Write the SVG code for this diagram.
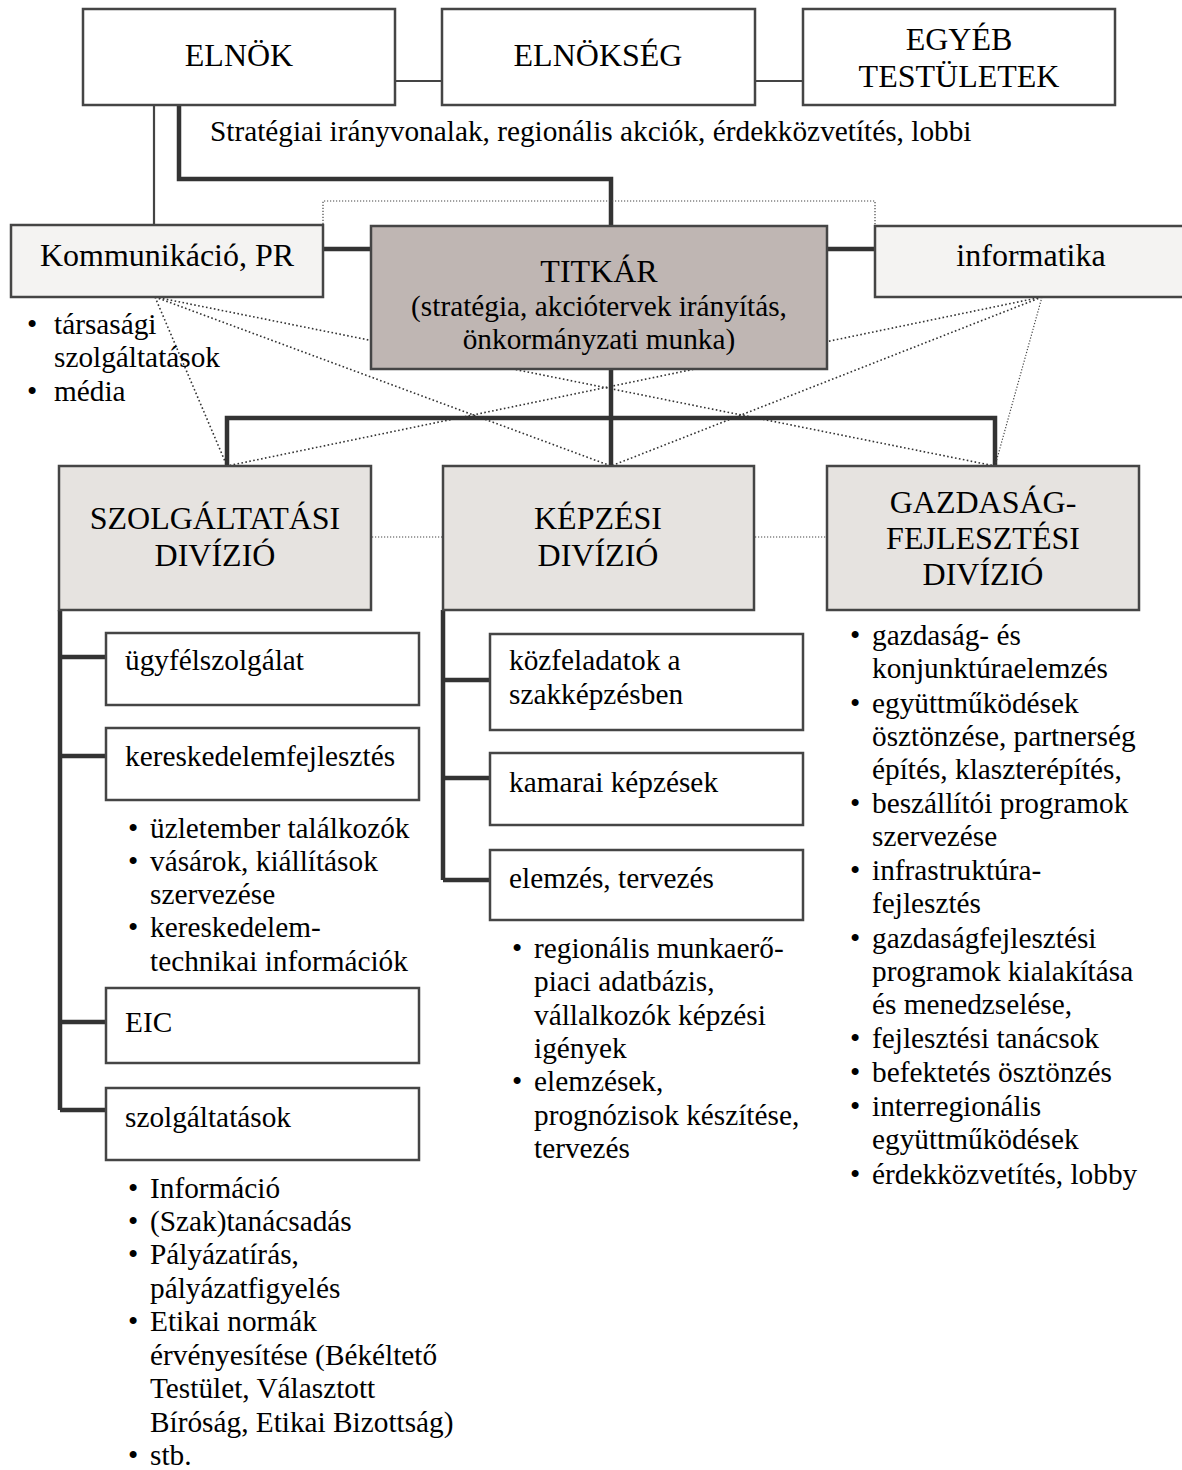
<svg xmlns="http://www.w3.org/2000/svg" width="1182" height="1470" viewBox="0 0 1182 1470">
<style>
text{font-family:"Liberation Serif","Times New Roman",serif;fill:#000}
.t{font-size:32px;text-anchor:middle}
.b{font-size:29.3px}
.box{stroke:#454545;stroke-width:2.5}
.w{fill:#fff}
.l{fill:#f4f3f2}
.d{fill:#e6e3e0}
.s{fill:#bfb6b3}
.thick{stroke:#333;stroke-width:4.5;fill:none}
.thin{stroke:#444;stroke-width:2.2;fill:none}
.dot{stroke:#333;stroke-width:1.6;stroke-dasharray:1.6 2.4;fill:none}
.dot2{stroke:#444;stroke-width:1.2;stroke-dasharray:1.2 1.8;fill:none}
</style>
<rect width="1182" height="1470" fill="#fff"/>
<g id="connectors">
<line class="thin" x1="395" y1="81" x2="442" y2="81"/>
<line class="thin" x1="755" y1="81" x2="803" y2="81"/>
<line class="thin" x1="154" y1="105" x2="154" y2="225"/>
<polyline class="thick" points="179,105 179,179 611,179 611,226"/>
<polyline class="dot2" points="323,224 323,201 875,201 875,226"/>
<line class="thick" x1="323" y1="249" x2="371" y2="249"/>
<line class="thick" x1="827" y1="249" x2="875" y2="249"/>
<line class="thick" x1="611" y1="369" x2="611" y2="466"/>
<polyline class="thick" points="227,466 227,418 995,418 995,466"/>
<line class="dot" x1="155" y1="297" x2="227" y2="466"/>
<line class="dot" x1="155" y1="297" x2="611" y2="466"/>
<line class="dot" x1="155" y1="297" x2="995" y2="466"/>
<line class="dot" x1="1042" y1="297" x2="227" y2="466"/>
<line class="dot" x1="1042" y1="297" x2="611" y2="466"/>
<line class="dot2" x1="1042" y1="297" x2="995" y2="466"/>
<line class="dot2" x1="372" y1="537" x2="443" y2="537"/>
<line class="dot2" x1="755" y1="537" x2="827" y2="537"/>
<polyline class="thick" points="60,610 60,1110"/>
<line class="thick" x1="60" y1="657" x2="106" y2="657"/>
<line class="thick" x1="60" y1="756" x2="106" y2="756"/>
<line class="thick" x1="60" y1="1022" x2="106" y2="1022"/>
<line class="thick" x1="60" y1="1110" x2="106" y2="1110"/>
<polyline class="thick" points="443,610 443,880"/>
<line class="thick" x1="443" y1="680" x2="490" y2="680"/>
<line class="thick" x1="443" y1="778" x2="490" y2="778"/>
<line class="thick" x1="443" y1="880" x2="490" y2="880"/>
</g>
<g id="elnok"><rect class="box w" x="83" y="9" width="312" height="96"/><text class="t" x="239" y="66">ELNÖK</text></g>
<g id="elnokseg"><rect class="box w" x="442" y="9" width="313" height="96"/><text class="t" x="598" y="66">ELNÖKSÉG</text></g>
<g id="egyeb"><rect class="box w" x="803" y="9" width="312" height="96"/><text class="t" x="959" y="50">EGYÉB</text><text class="t" x="959" y="87">TESTÜLETEK</text></g>
<text class="b" x="210" y="141">Stratégiai irányvonalak, regionális akciók, érdekközvetítés, lobbi</text>
<g id="titkar"><rect class="box s" x="371" y="226" width="456" height="143"/><text class="t" x="599" y="282">TITKÁR</text><text class="b" x="599" y="316" text-anchor="middle">(stratégia, akciótervek irányítás,</text><text class="b" x="599" y="349" text-anchor="middle">önkormányzati munka)</text></g>
<g id="kommunikacio"><rect class="box l" x="11" y="225" width="312" height="72"/><text class="t" x="167" y="266">Kommunikáció, PR</text>
<text class="b" x="27" y="334">•</text><text class="b" x="54" y="334">társasági</text><text class="b" x="54" y="367">szolgáltatások</text><text class="b" x="27" y="401">•</text><text class="b" x="54" y="401">média</text></g>
<g id="informatika"><rect class="box l" x="875" y="226" width="312" height="71"/><text class="t" x="1031" y="266">informatika</text></g>
<g id="szolg-div"><rect class="box d" x="59" y="466" width="312" height="144"/><text class="t" x="215" y="529">SZOLGÁLTATÁSI</text><text class="t" x="215" y="566">DIVÍZIÓ</text></g>
<g id="kepzesi-div"><rect class="box d" x="443" y="466" width="311" height="144"/><text class="t" x="598" y="529">KÉPZÉSI</text><text class="t" x="598" y="566">DIVÍZIÓ</text></g>
<g id="gazd-div"><rect class="box d" x="827" y="466" width="312" height="144"/><text class="t" x="983" y="513">GAZDASÁG-</text><text class="t" x="983" y="549">FEJLESZTÉSI</text><text class="t" x="983" y="585">DIVÍZIÓ</text></g>
<g id="ugyfel"><rect class="box w" x="106" y="633" width="313" height="72"/><text class="b" x="125" y="670">ügyfélszolgálat</text></g>
<g id="keresk"><rect class="box w" x="106" y="728" width="313" height="72"/><text class="b" x="125" y="766">kereskedelemfejlesztés</text>
<text class="b" x="128" y="838">•</text><text class="b" x="150" y="838">üzletember találkozók</text>
<text class="b" x="128" y="871">•</text><text class="b" x="150" y="871">vásárok, kiállítások</text>
<text class="b" x="150" y="904">szervezése</text>
<text class="b" x="128" y="937">•</text><text class="b" x="150" y="937">kereskedelem-</text>
<text class="b" x="150" y="971">technikai információk</text></g>
<g id="eic"><rect class="box w" x="106" y="988" width="313" height="75"/><text class="b" x="125" y="1032">EIC</text></g>
<g id="szolgaltatasok"><rect class="box w" x="106" y="1088" width="313" height="72"/><text class="b" x="125" y="1127">szolgáltatások</text>
<text class="b" x="128" y="1198">•</text><text class="b" x="150" y="1198">Információ</text>
<text class="b" x="128" y="1231">•</text><text class="b" x="150" y="1231">(Szak)tanácsadás</text>
<text class="b" x="128" y="1264">•</text><text class="b" x="150" y="1264">Pályázatírás,</text>
<text class="b" x="150" y="1298">pályázatfigyelés</text>
<text class="b" x="128" y="1331">•</text><text class="b" x="150" y="1331">Etikai normák</text>
<text class="b" x="150" y="1365">érvényesítése (Békéltető</text>
<text class="b" x="150" y="1398">Testület, Választott</text>
<text class="b" x="150" y="1432">Bíróság, Etikai Bizottság)</text>
<text class="b" x="128" y="1465">•</text><text class="b" x="150" y="1465">stb.</text></g>
<g id="kozfeladatok"><rect class="box w" x="490" y="634" width="313" height="96"/><text class="b" x="509" y="670">közfeladatok a</text><text class="b" x="509" y="704">szakképzésben</text></g>
<g id="kamarai"><rect class="box w" x="490" y="753" width="313" height="72"/><text class="b" x="509" y="792">kamarai képzések</text></g>
<g id="elemzes"><rect class="box w" x="490" y="850" width="313" height="70"/><text class="b" x="509" y="888">elemzés, tervezés</text>
<text class="b" x="512" y="958">•</text><text class="b" x="534" y="958">regionális munkaerő-</text>
<text class="b" x="534" y="991">piaci adatbázis,</text>
<text class="b" x="534" y="1025">vállalkozók képzési</text>
<text class="b" x="534" y="1058">igények</text>
<text class="b" x="512" y="1091">•</text><text class="b" x="534" y="1091">elemzések,</text>
<text class="b" x="534" y="1125">prognózisok készítése,</text>
<text class="b" x="534" y="1158">tervezés</text></g>
<g id="gazd-list">
<text class="b" x="850" y="645">•</text><text class="b" x="872" y="645">gazdaság- és</text>
<text class="b" x="872" y="678">konjunktúraelemzés</text>
<text class="b" x="850" y="713">•</text><text class="b" x="872" y="713">együttműködések</text>
<text class="b" x="872" y="746">ösztönzése, partnerség</text>
<text class="b" x="872" y="779">építés, klaszterépítés,</text>
<text class="b" x="850" y="813">•</text><text class="b" x="872" y="813">beszállítói programok</text>
<text class="b" x="872" y="846">szervezése</text>
<text class="b" x="850" y="880">•</text><text class="b" x="872" y="880">infrastruktúra-</text>
<text class="b" x="872" y="913">fejlesztés</text>
<text class="b" x="850" y="948">•</text><text class="b" x="872" y="948">gazdaságfejlesztési</text>
<text class="b" x="872" y="981">programok kialakítása</text>
<text class="b" x="872" y="1014">és menedzselése,</text>
<text class="b" x="850" y="1048">•</text><text class="b" x="872" y="1048">fejlesztési tanácsok</text>
<text class="b" x="850" y="1082">•</text><text class="b" x="872" y="1082">befektetés ösztönzés</text>
<text class="b" x="850" y="1116">•</text><text class="b" x="872" y="1116">interregionális</text>
<text class="b" x="872" y="1149">együttműködések</text>
<text class="b" x="850" y="1184">•</text><text class="b" x="872" y="1184">érdekközvetítés, lobby</text>
</g>
</svg>
